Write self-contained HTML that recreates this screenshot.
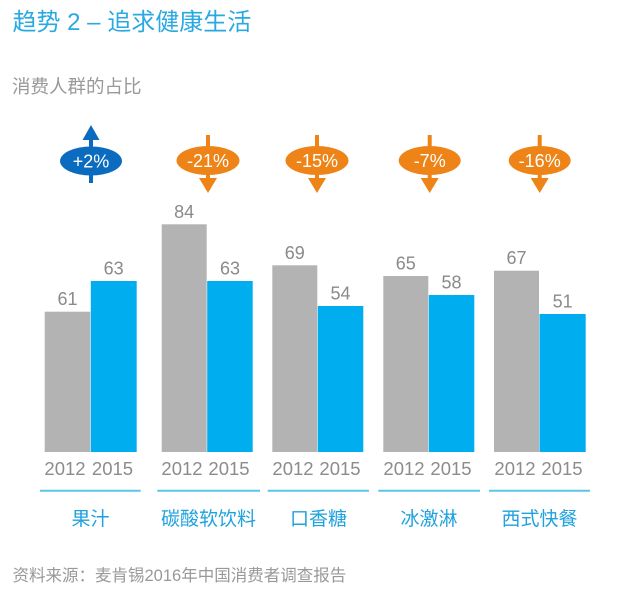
<!DOCTYPE html>
<html>
<head>
<meta charset="utf-8">
<style>
html,body{margin:0;padding:0;background:#fff;}
svg{display:block;}
text{font-family:"Liberation Sans","Noto Sans CJK SC",sans-serif;}
</style>
</head>
<body>
<svg width="631" height="601" viewBox="0 0 631 601" xmlns="http://www.w3.org/2000/svg">
  <rect width="631" height="601" fill="#fff"/>
  <!-- Title -->
  <text x="12.5" y="30" font-size="24" fill="#29a9e1">趋势 2 – 追求健康生活</text>
  <text x="12" y="93" font-size="18.5" fill="#999999">消费人群的占比</text>

  <!-- Bars -->
  <g>
    <rect x="44.7" y="311.7" width="45.6" height="140.3" fill="#b3b3b3"/>
    <rect x="90.8" y="281" width="45.9" height="171" fill="#00adef"/>

    <rect x="161.7" y="224.3" width="45" height="227.7" fill="#b3b3b3"/>
    <rect x="207.2" y="281" width="45.5" height="171" fill="#00adef"/>

    <rect x="272.3" y="265.3" width="45" height="186.7" fill="#b3b3b3"/>
    <rect x="317.8" y="306" width="45.5" height="146" fill="#00adef"/>

    <rect x="383.3" y="276" width="45" height="176" fill="#b3b3b3"/>
    <rect x="428.8" y="295" width="45.5" height="157" fill="#00adef"/>

    <rect x="494" y="270.7" width="45" height="181.3" fill="#b3b3b3"/>
    <rect x="539.5" y="314" width="46.2" height="138" fill="#00adef"/>
  </g>

  <!-- Value labels -->
  <g font-size="18" fill="#8a8a8a" text-anchor="middle">
    <text x="67.5" y="305">61</text>
    <text x="113.7" y="274.5">63</text>
    <text x="184.2" y="217.8">84</text>
    <text x="230" y="274.5">63</text>
    <text x="294.8" y="258.8">69</text>
    <text x="340.5" y="299.5">54</text>
    <text x="405.8" y="269.5">65</text>
    <text x="451.5" y="288.5">58</text>
    <text x="516.5" y="264.2">67</text>
    <text x="562.6" y="307.5">51</text>
  </g>

  <!-- Year labels -->
  <g font-size="18.5" fill="#8c8c8c" text-anchor="middle">
    <text x="65" y="475">2012</text>
    <text x="112.5" y="475">2015</text>
    <text x="182" y="475">2012</text>
    <text x="229" y="475">2015</text>
    <text x="293" y="475">2012</text>
    <text x="340" y="475">2015</text>
    <text x="404" y="475">2012</text>
    <text x="451" y="475">2015</text>
    <text x="515" y="475">2012</text>
    <text x="562" y="475">2015</text>
  </g>

  <!-- Separator lines -->
  <g stroke="#5cc5ea" stroke-width="2">
    <line x1="40" y1="490.7" x2="140.7" y2="490.7"/>
    <line x1="157.3" y1="490.7" x2="260" y2="490.7"/>
    <line x1="267.7" y1="490.7" x2="369" y2="490.7"/>
    <line x1="378.3" y1="490.7" x2="480" y2="490.7"/>
    <line x1="489" y1="490.7" x2="590" y2="490.7"/>
  </g>

  <!-- Category labels -->
  <g font-size="19" fill="#1fa2de" text-anchor="middle">
    <text x="90.5" y="525">果汁</text>
    <text x="208.5" y="525">碳酸软饮料</text>
    <text x="318.5" y="525">口香糖</text>
    <text x="429" y="525">冰激淋</text>
    <text x="539.5" y="525">西式快餐</text>
  </g>

  <!-- Badges -->
  <!-- blue up -->
  <g fill="#0b6cbf">
    <rect x="89" y="132" width="4" height="51"/>
    <polygon points="91,125 82.5,140 99.5,140"/>
    <ellipse cx="91" cy="161" rx="31" ry="14.5"/>
  </g>
  <text x="91" y="167.5" font-size="18" fill="#fff" text-anchor="middle">+2%</text>

  <!-- orange down badges -->
  <g fill="#ee8417">
    <g transform="translate(208,0)">
      <rect x="-2" y="135" width="4" height="48"/>
      <polygon points="-9,178 9,178 0,193"/>
      <ellipse cx="0" cy="160.5" rx="31.5" ry="14.5"/>
    </g>
    <g transform="translate(317,0)">
      <rect x="-2" y="135" width="4" height="48"/>
      <polygon points="-9,178 9,178 0,193"/>
      <ellipse cx="0" cy="160.5" rx="31.5" ry="14.5"/>
    </g>
    <g transform="translate(429.7,0)">
      <rect x="-2" y="135" width="4" height="48"/>
      <polygon points="-9,178 9,178 0,193"/>
      <ellipse cx="0" cy="160.5" rx="31" ry="14.5"/>
    </g>
    <g transform="translate(539.7,0)">
      <rect x="-2" y="135" width="4" height="48"/>
      <polygon points="-9,178 9,178 0,193"/>
      <ellipse cx="0" cy="160.5" rx="31" ry="14.5"/>
    </g>
  </g>
  <g font-size="18" fill="#fff" text-anchor="middle">
    <text x="208" y="167">-21%</text>
    <text x="317" y="167">-15%</text>
    <text x="429.7" y="167">-7%</text>
    <text x="539.7" y="167">-16%</text>
  </g>

  <!-- Source -->
  <text x="12.5" y="581" font-size="16.5" fill="#999999">资料来源：麦肯锡2016年中国消费者调查报告</text>
</svg>
</body>
</html>
